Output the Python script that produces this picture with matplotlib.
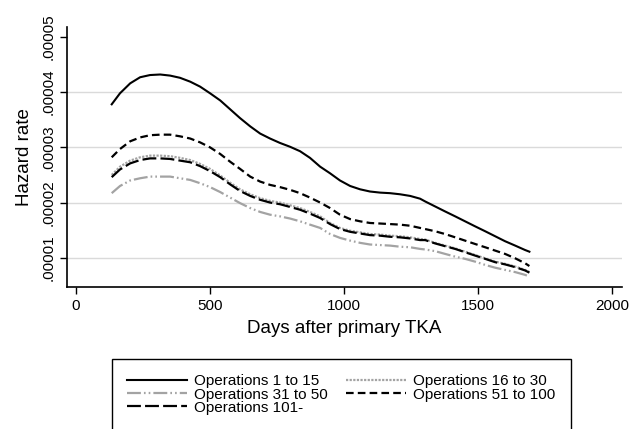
import matplotlib.pyplot as plt

plt.rcParams['font.family'] = ['Liberation Sans', 'DejaVu Sans']
plt.rcParams['lines.scale_dashes'] = False

# days after primary TKA (x positions where the curves were read)
days = [133, 164, 202, 239, 276, 314, 351, 388, 426, 463, 500,
        538, 575, 612, 650, 687, 724, 761, 799, 836, 873, 911,
        948, 985, 1023, 1060, 1097, 1135, 1172, 1209, 1247, 1284,
        1303, 1340, 1377, 1415, 1452, 1489, 1527, 1564, 1601, 1639, 1676, 1692]

# hazard rates, in units of 1e-5
ops_1_15 = [3.78, 3.98, 4.16, 4.27, 4.31, 4.32, 4.30, 4.26, 4.19, 4.10, 3.98,
            3.85, 3.69, 3.53, 3.38, 3.25, 3.16, 3.08, 3.01, 2.93, 2.81, 2.65,
            2.53, 2.40, 2.30, 2.24, 2.20, 2.18, 2.17, 2.15, 2.12, 2.07,
            2.02, 1.93, 1.84, 1.75, 1.66, 1.57, 1.48, 1.39, 1.30, 1.22, 1.14, 1.11]
ops_16_30 = [2.50, 2.65, 2.76, 2.82, 2.85, 2.85, 2.84, 2.81, 2.77, 2.70, 2.61,
             2.49, 2.36, 2.24, 2.15, 2.08, 2.03, 2.00, 1.95, 1.90, 1.83, 1.75,
             1.63, 1.54, 1.49, 1.46, 1.43, 1.42, 1.40, 1.39, 1.37, 1.34,
             1.33, 1.27, 1.22, 1.17, 1.11, 1.05, 0.99, 0.93, 0.89, 0.84, 0.78, 0.74]
ops_31_50 = [2.17, 2.30, 2.40, 2.44, 2.47, 2.47, 2.47, 2.44, 2.41, 2.35, 2.28,
             2.19, 2.09, 1.99, 1.90, 1.83, 1.78, 1.75, 1.71, 1.66, 1.60, 1.54,
             1.43, 1.36, 1.31, 1.27, 1.24, 1.23, 1.22, 1.20, 1.19, 1.16,
             1.15, 1.12, 1.07, 1.02, 0.98, 0.93, 0.87, 0.82, 0.78, 0.74, 0.69, 0.66]
ops_51_100 = [2.82, 2.97, 3.11, 3.18, 3.22, 3.23, 3.23, 3.20, 3.16, 3.09, 3.00,
              2.88, 2.74, 2.61, 2.47, 2.38, 2.32, 2.28, 2.23, 2.17, 2.09, 2.00,
              1.90, 1.78, 1.70, 1.66, 1.63, 1.62, 1.61, 1.60, 1.58, 1.54,
              1.52, 1.48, 1.43, 1.37, 1.31, 1.25, 1.19, 1.13, 1.07, 0.99, 0.90, 0.85]
ops_101 = [2.46, 2.60, 2.71, 2.77, 2.80, 2.80, 2.79, 2.76, 2.73, 2.66, 2.57,
           2.46, 2.33, 2.21, 2.12, 2.05, 2.00, 1.97, 1.92, 1.87, 1.80, 1.72,
           1.61, 1.52, 1.47, 1.44, 1.41, 1.40, 1.38, 1.37, 1.35, 1.32,
           1.32, 1.26, 1.21, 1.16, 1.10, 1.04, 0.98, 0.92, 0.88, 0.83, 0.77, 0.73]

x_ticks = [0, 500, 1000, 1500, 2000]
y_ticks = [0.00001, 0.00002, 0.00003, 0.00004, 0.00005]
y_labels = ['.00001', '.00002', '.00003', '.00004', '.00005']
grid_vals = [0.00001, 0.00002, 0.00003, 0.00004]

fig = plt.figure(figsize=(6.3, 4.29), dpi=100)
ax = fig.add_axes([0.1063, 0.331, 0.8807, 0.606])

grey = '#a3a3a3'
ax.hlines(grid_vals, -34, 2037, color='#dadada', lw=1.0, zorder=0)


def scaled(vals):
    return [v * 1e-5 for v in vals]


h1, = ax.plot(days, scaled(ops_1_15), color='black', lw=1.5, label='Operations 1 to 15')
h2, = ax.plot(days, scaled(ops_16_30), color=grey, lw=1.6,
              ls=(0, (1.6, 1.0)), label='Operations 16 to 30')
h3, = ax.plot(days, scaled(ops_31_50), color=grey, lw=1.6,
              ls=(0, (10, 2.2, 1.2, 2.2, 1.2, 2.2)), label='Operations 31 to 50')
h4, = ax.plot(days, scaled(ops_51_100), color='black', lw=1.6,
              ls=(0, (5.5, 3.0)), label='Operations 51 to 100')
h5, = ax.plot(days, scaled(ops_101), color='black', lw=1.6,
              ls=(0, (10, 3.0)), label='Operations 101-')

ax.set_xlim(-34, 2037)
ax.set_ylim(0.0000047, 0.0000518)
ax.set_xticks(x_ticks)
ax.set_yticks(y_ticks)
ax.set_yticklabels(y_labels, rotation=90, va='center')
ax.tick_params(labelsize=11, length=5, width=1, colors='black')

for side in ['top', 'right']:
    ax.spines[side].set_visible(False)
for side in ['left', 'bottom']:
    ax.spines[side].set_linewidth(1.2)

ax.set_xlabel('Days after primary TKA', fontsize=13.5, labelpad=5)
ax.set_ylabel('Hazard rate', fontsize=13.5, labelpad=6)

# column-major order so rows read 1-15 | 16-30, 31-50 | 51-100, 101-
leg = fig.legend([h1, h3, h5, h2, h4],
                 ['Operations 1 to 15', 'Operations 31 to 50', 'Operations 101-',
                  'Operations 16 to 30', 'Operations 51 to 100'],
                 loc='upper left', bbox_to_anchor=(112 / 630, 1 - 359 / 429, 459 / 630, 0),
                 mode='expand', ncol=2, fontsize=11, handlelength=3.9,
                 handletextpad=0.5, columnspacing=1.4, labelspacing=-0.05,
                 borderaxespad=0, borderpad=1.0, fancybox=False, framealpha=1,
                 edgecolor='black')
leg.get_frame().set_linewidth(1.0)

fig.savefig('out.png', dpi=100)
